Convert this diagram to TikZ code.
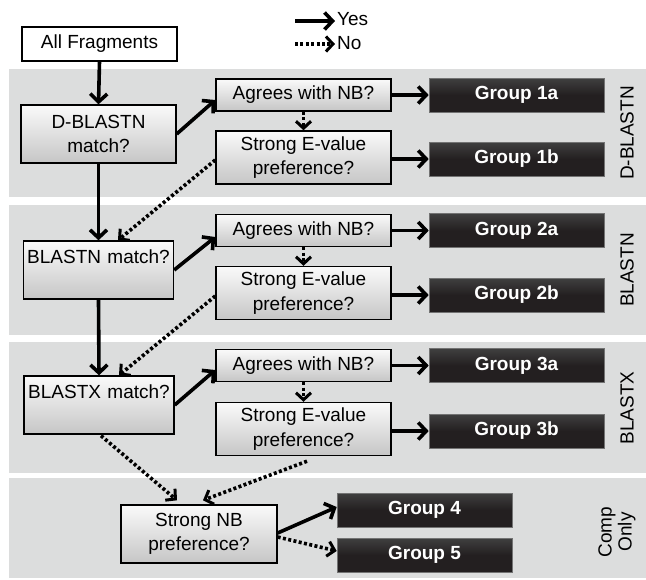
\documentclass[tikz,border=0pt]{standalone}
\usepackage{fontspec}
\setmainfont{Liberation Sans}
\usetikzlibrary{arrows.meta,calc}
\definecolor{bandgray}{HTML}{DCDDDD}
\definecolor{grpdark}{HTML}{231F20}
\tikzset{
  band/.style={fill=bandgray,draw=none},
  qbox/.style={draw=black,line width=1.4pt,top color=gray!4,bottom color=gray!45,
    align=center,inner sep=0pt,font=\fontsize{19}{24.5}\selectfont},
  topbox/.style={qbox,text width=150pt,text height=22pt,text depth=36pt},
  grp/.style={draw=black!55,line width=0.6pt,top color=black!75,bottom color=grpdark,
    middle color=grpdark,minimum width=175pt,minimum height=34pt,inner sep=0pt,
    text=white,font=\fontsize{19}{22}\selectfont\bfseries},
  side/.style={rotate=90,font=\fontsize{19}{20}\selectfont,align=center},
  yesarr/.style={line width=3.6pt,-{Straight Barb[length=8pt,width=17pt]}},
  noarr/.style={line width=3.6pt,dash pattern=on 3pt off 2.4pt,
    -{Straight Barb[length=7pt,width=15pt,line width=3pt]}},
}
\begin{document}
\begin{tikzpicture}[x=1pt,y=-1pt]
\useasboundingbox (0,0) rectangle (646,579);
\fill[white] (0,0) rectangle (646,579);
% bands
\path[band] (9,69) rectangle (646,197);
\path[band] (9,205) rectangle (646,335);
\path[band] (9,342) rectangle (646,473);
\path[band] (9,478) rectangle (646,578);

% legend
\node[anchor=west,inner sep=0pt,font=\fontsize{19}{20}\selectfont] (yes) at (337,19) {Yes};
\node[anchor=west,inner sep=0pt,font=\fontsize{19}{20}\selectfont] (no) at (337,43) {No};
\coordinate (ys) at (295,21);
\coordinate (ns) at (295,44);
\draw[yesarr] (ys) -- ([xshift=-2pt,yshift=-2pt]yes.west);
\draw[noarr] (ns) -- ([xshift=-2pt,yshift=-1pt]no.west);

% nodes
\node[draw=black,line width=1.4pt,fill=white,minimum width=155pt,minimum height=34pt,
  inner sep=0pt,font=\fontsize{19}{22}\selectfont] (all) at (99.5,44) {All Fragments};

\node[qbox,minimum width=155pt,minimum height=58pt] (dbl) at (98.5,134) {D-BLASTN\\match?};
\node[topbox] (bn) at (98.5,270) {BLASTN match?};
\node[topbox] (bx) at (99,405) {BLASTX match?};
\node[qbox,minimum width=156pt,minimum height=58pt] (nb) at (199,534) {Strong NB\\preference?};

\node[qbox,minimum width=175pt,minimum height=32pt] (ag1) at (303.5,95) {Agrees with NB?};
\node[qbox,minimum width=175pt,minimum height=53pt] (se1) at (303.5,157.5) {Strong E-value\\preference?};
\node[qbox,minimum width=175pt,minimum height=32pt] (ag2) at (303.5,230.5) {Agrees with NB?};
\node[qbox,minimum width=175pt,minimum height=53pt] (se2) at (303.5,293) {Strong E-value\\preference?};
\node[qbox,minimum width=175pt,minimum height=32pt] (ag3) at (303.5,365.5) {Agrees with NB?};
\node[qbox,minimum width=175pt,minimum height=53pt] (se3) at (303.5,429) {Strong E-value\\preference?};

\node[grp] (g1a) at (516.5,95) {Group 1a};
\node[grp] (g1b) at (516.5,159) {Group 1b};
\node[grp] (g2a) at (516.5,230.5) {Group 2a};
\node[grp] (g2b) at (516.5,295) {Group 2b};
\node[grp] (g3a) at (516.5,365.5) {Group 3a};
\node[grp] (g3b) at (516.5,431) {Group 3b};
\node[grp] (g4) at (424.5,510) {Group 4};
\node[grp] (g5) at (424.5,555) {Group 5};

% side labels
\node[side] (s1) at (627,133) {D-BLASTN};
\node[side] (s2) at (627,270) {BLASTN};
\node[side] (s3) at (627,408) {BLASTX};
\node[side] (s4) at (617,532) {Comp\\Only};

% connectors
\draw[yesarr] (all.south) -- (dbl.north);
\draw[yesarr] (dbl.east) -- ([yshift=-5pt]ag1.west);
\draw[noarr] (ag1.south) -- (se1.north);
\draw[yesarr] (ag1.east) -- (g1a.west);
\draw[yesarr] (se1.east |- g1b.west) -- (g1b.west);
\draw[yesarr] (dbl.south) -- (bn.north);
\draw[noarr] ([yshift=-2.5pt]se1.west) -- ([xshift=19.5pt]bn.north);

\draw[yesarr] (bn.east) -- ([yshift=-6.5pt]ag2.west);
\draw[noarr] (ag2.south) -- (se2.north);
\draw[yesarr] (ag2.east) -- (g2a.west);
\draw[yesarr] (se2.east |- g2b.west) -- (g2b.west);
\draw[yesarr] (bn.south) -- (bx.north);
\draw[noarr] ([yshift=-3pt]se2.west) -- ([xshift=20pt]bx.north);

\draw[yesarr] (bx.east) -- ([yshift=-4.5pt]ag3.west);
\draw[noarr] (ag3.south) -- (se3.north);
\draw[yesarr] (ag3.east) -- (g3a.west);
\draw[yesarr] (se3.east |- g3b.west) -- (g3b.west);
\draw[noarr] ([xshift=2pt,yshift=-1pt]bx.south) -- ([xshift=-22pt,yshift=4pt]nb.north);
\draw[noarr] ([xshift=3.5pt,yshift=-5pt]se3.south) -- ([xshift=4pt,yshift=4pt]nb.north);

\draw[yesarr] ([yshift=1pt]nb.east) -- ([yshift=3pt]g4.west);
\draw[noarr] ([yshift=-3pt]nb.east) -- ([yshift=4pt]g5.west);
\end{tikzpicture}
\end{document}
